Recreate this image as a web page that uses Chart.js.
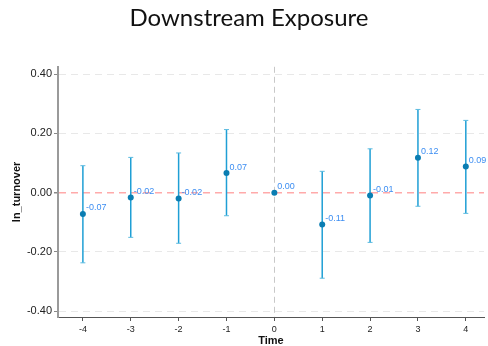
<!DOCTYPE html>
<html>
<head>
<meta charset="utf-8">
<script src="https://cdn.jsdelivr.net/npm/chart.js@4"></script>
<style>
  html, body { margin: 0; padding: 0; background: #fff; }
  #wrap { width: 488px; height: 346px; }
</style>
</head>
<body>
<div id="wrap"><canvas id="chart"></canvas></div>
<script>
// event-time periods and estimates
const periods = [-4, -3, -2, -1, 0, 1, 2, 3, 4];
const coefs = [-0.072, -0.016, -0.020, 0.066, 0.000, -0.108, -0.010, 0.118, 0.088];
const ciLow = [-0.237, -0.151, -0.171, -0.078, 0.000, -0.289, -0.168, -0.046, -0.070];
const ciHigh = [0.091, 0.119, 0.134, 0.213, 0.000, 0.072, 0.148, 0.281, 0.244];
const yTicks = [-0.4, -0.2, 0, 0.2, 0.4];

const points = periods.map((t, i) => ({ x: t, y: coefs[i] }));

// error bars + value labels, drawn through the chart's own scales
const errorBars = {
  id: 'errorBars',
  beforeDatasetsDraw(chart) {
    const { ctx, scales: { x, y } } = chart;
    ctx.save();
    periods.forEach((t, i) => {
      if (ciLow[i] === ciHigh[i]) return;
      const px = x.getPixelForValue(t);
      const top = y.getPixelForValue(ciHigh[i]);
      const bot = y.getPixelForValue(ciLow[i]);
      ctx.beginPath();
      ctx.lineWidth = 1.5;
      ctx.strokeStyle = '#1f9fd5';
      ctx.moveTo(px, top);
      ctx.lineTo(px, bot);
      ctx.stroke();
      ctx.beginPath();
      ctx.lineWidth = 1;
      ctx.strokeStyle = '#5bbbe0';
      ctx.moveTo(px - 2.5, top); ctx.lineTo(px + 2.5, top);
      ctx.moveTo(px - 2.5, bot); ctx.lineTo(px + 2.5, bot);
      ctx.stroke();
    });
    ctx.restore();
  },
  afterDatasetsDraw(chart) {
    const { ctx, scales: { x, y } } = chart;
    ctx.save();
    ctx.fillStyle = '#3d8ef2';
    ctx.font = '9px "Liberation Sans", Arial, sans-serif';
    ctx.textAlign = 'left';
    ctx.textBaseline = 'middle';
    periods.forEach((t, i) => {
      ctx.fillText(coefs[i].toFixed(2), x.getPixelForValue(t) + 3, y.getPixelForValue(coefs[i]) - 6);
    });
    ctx.restore();
  }
};

new Chart(document.getElementById('chart'), {
  type: 'scatter',
  data: {
    datasets: [{
      data: points,
      pointRadius: 3,
      pointBackgroundColor: '#0a7db2',
      pointBorderColor: '#0a7db2',
      pointBorderWidth: 0
    }]
  },
  options: {
    responsive: true,
    maintainAspectRatio: false,
    animation: false,
    layout: { padding: { left: 10, right: 0, top: 0, bottom: 0 } },
    plugins: {
      legend: { display: false },
      tooltip: { enabled: false },
      title: {
        display: true,
        text: 'Downstream Exposure',
        color: '#111',
        font: { family: 'Lato', size: 24, weight: 'normal', lineHeight: 1.2 },
        padding: { top: 4, bottom: 34 }
      }
    },
    scales: {
      x: {
        type: 'linear',
        min: -4.52,
        max: 4.38,
        afterBuildTicks(scale) { scale.ticks = periods.map(v => ({ value: v })); },
        afterFit(scale) { scale.height = 29; },
        ticks: {
          color: '#222',
          font: { family: '"Liberation Sans", Arial, sans-serif', size: 9 },
          padding: 3,
          callback: v => String(v)
        },
        grid: {
          color: ctx => ctx.tick && ctx.tick.value === 0 ? '#c8c8c8' : 'rgba(0,0,0,0)',
          lineWidth: 1,
          drawTicks: true,
          tickLength: 4,
          tickColor: '#555'
        },
        border: { display: true, color: '#555', width: 1, dash: [6, 4] },
        title: {
          display: true,
          text: 'Time',
          color: '#111',
          font: { family: '"Liberation Sans", Arial, sans-serif', size: 11, weight: 'bold', lineHeight: 1.0 },
          padding: { top: 0, bottom: 0 }
        }
      },
      y: {
        min: -0.42,
        max: 0.425,
        afterBuildTicks(scale) { scale.ticks = yTicks.map(v => ({ value: v })); },
        afterFit(scale) { scale.width = 48; },
        ticks: {
          color: '#222',
          font: { family: '"Liberation Sans", Arial, sans-serif', size: 11 },
          padding: 2,
          callback: v => v.toFixed(2)
        },
        grid: {
          color: ctx => ctx.tick && ctx.tick.value === 0 ? '#ffaaaa' : '#e8e8e8',
          lineWidth: ctx => ctx.tick && ctx.tick.value === 0 ? 1.5 : 1,
          drawTicks: true,
          tickLength: 4,
          tickColor: '#888'
        },
        border: { display: true, color: '#9a9a9a', width: 2, dash: [7, 5] },
        title: {
          display: true,
          text: 'ln_turnover',
          color: '#111',
          font: { family: '"Liberation Sans", Arial, sans-serif', size: 11, weight: 'bold' },
          padding: { top: 0, bottom: 4 }
        }
      }
    }
  },
  plugins: [errorBars]
});
</script>
</body>
</html>
